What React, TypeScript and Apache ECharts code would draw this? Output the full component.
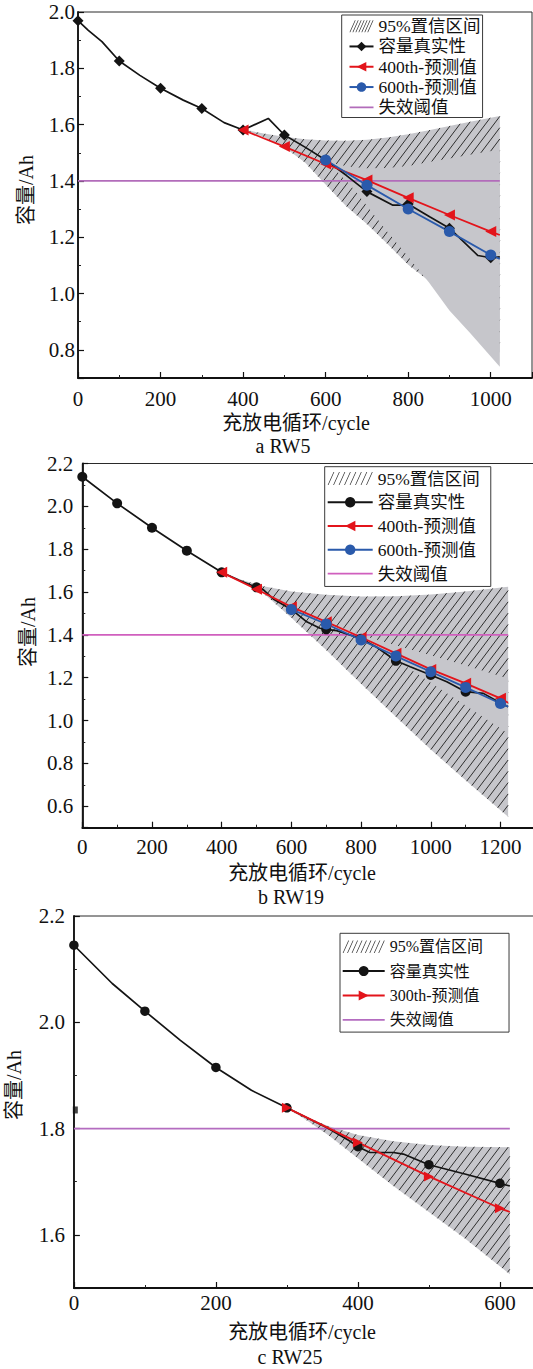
import React, { useEffect, useRef } from "react";
import * as echarts from "echarts";

const FONT = '"Liberation Serif", "Times New Roman", "Noto Sans CJK SC", serif';
const BLACK = "#141414";
const RED = "#e3141b";
const BLUE = "#2a5aab";
const GRAY = "#c6c6cb";
const HATCH = "#2e2e2e";

// ---------------- a RW5 ----------------
const rw5RealCycle = [0, 25, 58, 100, 150, 200, 255, 300, 354, 400, 461, 500, 550, 600, 650, 700, 763, 785, 800, 852, 900, 969, 1000, 1022];
const rw5RealCap = [1.969, 1.935, 1.895, 1.826, 1.775, 1.729, 1.687, 1.657, 1.607, 1.581, 1.622, 1.563, 1.52, 1.474, 1.42, 1.362, 1.314, 1.314, 1.318, 1.273, 1.232, 1.135, 1.127, 1.13];
const rw5Pred400Cycle = [400, 500, 600, 700, 800, 900, 1000, 1022];
const rw5Pred400Cap = [1.581, 1.522, 1.46, 1.403, 1.34, 1.279, 1.22, 1.208];
const rw5Pred600Cycle = [600, 700, 800, 900, 1000, 1022];
const rw5Pred600Cap = [1.474, 1.385, 1.3, 1.22, 1.137, 1.123];
const rw5ThresholdCycle = [0, 1022];
const rw5ThresholdCap = [1.4, 1.4];
const rw5Ci400Cycle = [400, 450, 500, 550, 600, 650, 700, 750, 800, 850, 900, 950, 1022];
const rw5Ci400Low = [1.583, 1.556, 1.52, 1.465, 1.387, 1.31, 1.247, 1.176, 1.102, 1.045, 0.956, 0.89, 0.79];
const rw5Ci400High = [1.583, 1.568, 1.557, 1.548, 1.544, 1.543, 1.546, 1.554, 1.566, 1.58, 1.595, 1.61, 1.631];
const rw5Ci600Cycle = [600, 630, 660, 700, 750, 800, 850, 900, 950, 1022];
const rw5Ci600Low = [1.474, 1.43, 1.385, 1.312, 1.219, 1.131, 1.04, 0.94, 0.86, 0.74];
const rw5Ci600High = [1.474, 1.458, 1.45, 1.445, 1.446, 1.453, 1.467, 1.48, 1.493, 1.512];

// ---------------- b RW19 ----------------
const rw19RealCycle = [0, 100, 200, 300, 400, 450, 500, 520, 548, 600, 644, 682, 700, 730, 759, 800, 845, 900, 941, 1000, 1046, 1100, 1151, 1200, 1222];
const rw19RealCap = [2.138, 2.014, 1.9, 1.793, 1.692, 1.655, 1.622, 1.61, 1.568, 1.519, 1.461, 1.431, 1.426, 1.42, 1.404, 1.382, 1.342, 1.279, 1.251, 1.213, 1.181, 1.135, 1.127, 1.082, 1.065];
const rw19Pred400Cycle = [400, 500, 600, 700, 800, 900, 1000, 1100, 1200, 1222];
const rw19Pred400Cap = [1.692, 1.613, 1.531, 1.461, 1.389, 1.314, 1.239, 1.174, 1.104, 1.083];
const rw19Pred600Cycle = [600, 700, 800, 900, 1000, 1100, 1200, 1222];
const rw19Pred600Cap = [1.519, 1.451, 1.376, 1.301, 1.228, 1.155, 1.08, 1.065];
const rw19ThresholdCycle = [0, 1222];
const rw19ThresholdCap = [1.4, 1.4];
const rw19Ci400Cycle = [400, 460, 520, 600, 700, 800, 900, 1000, 1100, 1222];
const rw19Ci400Low = [1.692, 1.65, 1.594, 1.48, 1.329, 1.172, 1.018, 0.865, 0.721, 0.551];
const rw19Ci400High = [1.692, 1.655, 1.627, 1.603, 1.587, 1.579, 1.58, 1.588, 1.603, 1.625];
const rw19Ci600Cycle = [600, 700, 800, 900, 1000, 1100, 1222];
const rw19Ci600Low = [1.519, 1.445, 1.39, 1.284, 1.177, 1.07, 0.94];
const rw19Ci600High = [1.519, 1.46, 1.4, 1.352, 1.305, 1.257, 1.197];

// ---------------- c RW25 ----------------
const rw25RealCycle = [0, 54, 100, 150, 200, 250, 300, 356, 388, 400, 417, 450, 464, 500, 552, 600, 614];
const rw25RealCap = [2.145, 2.073, 2.021, 1.966, 1.915, 1.872, 1.839, 1.802, 1.777, 1.766, 1.755, 1.755, 1.752, 1.732, 1.714, 1.697, 1.692];
const rw25Pred300Cycle = [300, 400, 500, 600, 614];
const rw25Pred300Cap = [1.839, 1.774, 1.71, 1.65, 1.643];
const rw25ThresholdCycle = [0, 614];
const rw25ThresholdCap = [1.8, 1.8];
const rw25CiCycle = [300, 330, 360, 400, 450, 500, 550, 614];
const rw25CiLow = [1.839, 1.814, 1.786, 1.744, 1.692, 1.643, 1.594, 1.526];
const rw25CiHigh = [1.839, 1.82, 1.804, 1.788, 1.776, 1.769, 1.766, 1.765];
const rw25StrayCycle = [2];
const rw25StrayCap = [1.835];

// ---------------- texts ----------------
const NAME_CI = "95%置信区间";
const NAME_REAL = "容量真实性";
const NAME_P400 = "400th-预测值";
const NAME_P600 = "600th-预测值";
const NAME_P300 = "300th-预测值";
const NAME_TH = "失效阈值";
const X_NAME = "充放电循环/cycle";
const Y_NAME = "容量/Ah";

// ---------------- helpers ----------------
function hatchSegments(poly: number[][], spacing: number, angleDeg: number) {
  const a = (angleDeg * Math.PI) / 180;
  const dx = Math.cos(a);
  const dy = -Math.sin(a);
  const nx = -dy;
  const ny = dx;
  let minC = Infinity;
  let maxC = -Infinity;
  for (const p of poly) {
    const c = p[0] * nx + p[1] * ny;
    if (c < minC) minC = c;
    if (c > maxC) maxC = c;
  }
  const segs: number[][] = [];
  for (let c = Math.ceil(minC / spacing) * spacing; c <= maxC; c += spacing) {
    const pts: number[][] = [];
    for (let i = 0; i < poly.length; i++) {
      const p = poly[i];
      const q = poly[(i + 1) % poly.length];
      const fp = p[0] * nx + p[1] * ny - c;
      const fq = q[0] * nx + q[1] * ny - c;
      if (fp < 0 !== fq < 0) {
        const t = fp / (fp - fq);
        const x = p[0] + t * (q[0] - p[0]);
        const y = p[1] + t * (q[1] - p[1]);
        pts.push([x, y, x * dx + y * dy]);
      }
    }
    pts.sort((u, v) => u[2] - v[2]);
    for (let k = 0; k + 1 < pts.length; k += 2) segs.push([pts[k][0], pts[k][1], pts[k + 1][0], pts[k + 1][1]]);
  }
  return segs;
}

function bandSeries(name: string, cycle: number[], low: number[], high: number[], hatch: boolean) {
  return {
    type: "custom",
    name,
    silent: true,
    clip: true,
    itemStyle: { color: GRAY },
    data: cycle.map((c, i) => [c, low[i], high[i]]),
    encode: { x: 0, y: [1, 2] },
    renderItem: (params: any, api: any) => {
      if (params.dataIndex !== 0) return null;
      const upper = cycle.map((c, i) => api.coord([c, high[i]]));
      const lower = cycle.map((c, i) => api.coord([c, low[i]])).reverse();
      const poly = upper.concat(lower);
      const children: any[] = [{ type: "polygon", shape: { points: poly }, style: { fill: GRAY } }];
      if (hatch) {
        hatchSegments(poly, 6.8, 53).forEach((s) =>
          children.push({
            type: "line",
            shape: { x1: s[0], y1: s[1], x2: s[2], y2: s[3] },
            style: { stroke: HATCH, lineWidth: 1 },
          })
        );
      }
      return { type: "group", children };
    },
  };
}

function curve(name: string, cycle: number[], cap: number[], color: string, symbol: string, size: number, rotate: number, width: number) {
  return {
    type: "line",
    name,
    color,
    symbol,
    symbolSize: size,
    symbolRotate: rotate,
    showAllSymbol: true,
    lineStyle: { color, width },
    itemStyle: { color, borderWidth: 0 },
    emphasis: { disabled: true },
    data: cycle.map((c, i) => (c % 100 === 0 ? [c, cap[i]] : { value: [c, cap[i]], symbol: "none" })),
  };
}

function hatchIcon(n: number, w: number, h: number) {
  const lw = 0.75;
  const slant = h * 0.45;
  const step = (w - lw - slant) / (n - 1);
  let d = "";
  for (let i = 0; i < n; i++) {
    const x = i * step;
    d += `M${x.toFixed(2)},${h} L${(x + lw).toFixed(2)},${h} L${(x + lw + slant).toFixed(2)},0 L${(x + slant).toFixed(2)},0 Z `;
  }
  return "path://" + d;
}

function lineIcon(w: number, h: number, t: number) {
  const a = h / 2 - t / 2;
  const b = h / 2 + t / 2;
  return `path://M0,0 L0.01,0 L0,0.01 Z M${w},${h} L${w - 0.01},${h} L${w},${h - 0.01} Z M0,${a} L${w},${a} L${w},${b} L0,${b} Z`;
}

function xAxisOpt(max: number, margin: number, fontSize: number) {
  return {
    type: "value",
    min: 0,
    max,
    minInterval: 200,
    maxInterval: 200,
    axisLine: { show: true, onZero: false, lineStyle: { color: "#111", width: 1.8 } },
    axisTick: { show: true, inside: true, length: 6, lineStyle: { color: "#111", width: 1.2 } },
    minorTick: { show: true, splitNumber: 2, length: 3, lineStyle: { color: "#222", width: 1 } },
    splitLine: { show: false },
    minorSplitLine: { show: false },
    axisLabel: {
      color: "#111",
      fontSize,
      fontFamily: FONT,
      margin,
      showMaxLabel: false,
      showMinLabel: true,
      formatter: (v: number) => String(v),
    },
  };
}

function yAxisOpt(min: number, max: number, margin: number, fontSize: number) {
  return {
    type: "value",
    min,
    max,
    minInterval: 0.2,
    maxInterval: 0.2,
    axisLine: { show: true, onZero: false, lineStyle: { color: "#111", width: 1.8 } },
    axisTick: { show: true, inside: true, length: 6, lineStyle: { color: "#111", width: 1.2 } },
    minorTick: { show: true, splitNumber: 2, length: 3, lineStyle: { color: "#222", width: 1 } },
    splitLine: { show: false },
    minorSplitLine: { show: false },
    axisLabel: {
      color: "#111",
      fontSize,
      fontFamily: FONT,
      margin,
      showMinLabel: false,
      showMaxLabel: true,
      formatter: (v: number) => v.toFixed(1),
    },
  };
}

function legendOpt(left: number, top: number, padding: number[], itemWidth: number, itemHeight: number, fontSize: number, lineHeight: number, data: any[]) {
  return {
    show: true,
    orient: "vertical",
    left,
    top,
    padding,
    itemWidth,
    itemHeight,
    itemGap: 0,
    backgroundColor: "#fff",
    borderColor: "#3a3a3a",
    borderWidth: 1,
    borderRadius: 0,
    selectedMode: false,
    textStyle: { color: "#111", fontFamily: FONT, fontSize, lineHeight },
    data,
  };
}

function text(t: string, x: number, y: number, fontSize: number, rotation = 0) {
  return {
    type: "text",
    x,
    y,
    rotation,
    silent: true,
    style: {
      text: t,
      fontSize,
      fontFamily: FONT,
      fill: "#111",
      align: "center",
      verticalAlign: "middle",
      textAlign: "center",
      textVerticalAlign: "middle",
    },
  };
}

function gridOpt(left: number, top: number, width: number, height: number) {
  return {
    left,
    top,
    width,
    height,
    show: true,
    borderColor: "#2a2a2a",
    borderWidth: 1,
    backgroundColor: "transparent",
    containLabel: false,
    outerBoundsMode: "none",
  };
}

// ---------------- layout of the three panels (page pixels) ----------------
const PANEL_A_TOP = 0;
const PANEL_B_TOP = 440;
const PANEL_C_TOP = 895;

// ---------------- options ----------------
const optionA = {
  animation: false,
  backgroundColor: "transparent",
  textStyle: { fontFamily: FONT },
  grid: gridOpt(78, 12, 454, 366),
  xAxis: xAxisOpt(1100, 10, 21),
  yAxis: yAxisOpt(0.7, 2.0, 3, 21),
  legend: legendOpt(341.7, 15, [1, 2, 0, 6.8], 24, 12, 17.5, 20.3, [
    { name: NAME_CI, icon: hatchIcon(7, 24, 12), itemStyle: { color: "#333", borderWidth: 0 } },
    { name: NAME_REAL },
    { name: NAME_P400 },
    { name: NAME_P600 },
    { name: NAME_TH, icon: lineIcon(24, 12, 1.8), itemStyle: { color: "#b26cba", borderWidth: 0 } },
  ]),
  graphic: [text(X_NAME, 296, 423, 20), text("a RW5", 283, 446, 20), text(Y_NAME, 26, 190, 20, Math.PI / 2)],
  series: [
    bandSeries(NAME_CI, rw5Ci400Cycle, rw5Ci400Low, rw5Ci400High, true),
    bandSeries("600th-置信区间", rw5Ci600Cycle, rw5Ci600Low, rw5Ci600High, false),
    curve(NAME_TH, rw5ThresholdCycle, rw5ThresholdCap, "#b26cba", "none", 0, 0, 1.8),
    curve(NAME_REAL, rw5RealCycle, rw5RealCap, BLACK, "diamond", 11, 0, 1.7),
    curve(NAME_P400, rw5Pred400Cycle, rw5Pred400Cap, RED, "triangle", 11, 90, 1.8),
    curve(NAME_P600, rw5Pred600Cycle, rw5Pred600Cap, BLUE, "circle", 11, 0, 1.8),
  ],
};

const bT = PANEL_B_TOP;
const optionB = {
  animation: false,
  backgroundColor: "transparent",
  textStyle: { fontFamily: FONT },
  grid: gridOpt(82.3, 463.5 - bT, 453, 364.2),
  xAxis: xAxisOpt(1300, 8.5, 21),
  yAxis: yAxisOpt(0.5, 2.2, 9, 21),
  legend: legendOpt(324.7, 466.7 - bT, [0, 11, 1, 2], 45, 13, 17.5, 23.75, [
    { name: NAME_CI, icon: hatchIcon(8, 45, 13), itemStyle: { color: "#333", borderWidth: 0 } },
    { name: NAME_REAL },
    { name: NAME_P400 },
    { name: NAME_P600 },
    { name: NAME_TH, icon: lineIcon(45, 13, 1.8), itemStyle: { color: "#d05fbe", borderWidth: 0 } },
  ]),
  graphic: [
    text(X_NAME, 302, 873 - bT, 20),
    text("b RW19", 291, 897 - bT, 20),
    text(Y_NAME, 28, 632 - bT, 20, Math.PI / 2),
  ],
  series: [
    bandSeries(NAME_CI, rw19Ci400Cycle, rw19Ci400Low, rw19Ci400High, true),
    bandSeries("600th-置信区间", rw19Ci600Cycle, rw19Ci600Low, rw19Ci600High, false),
    curve(NAME_TH, rw19ThresholdCycle, rw19ThresholdCap, "#d05fbe", "none", 0, 0, 1.8),
    curve(NAME_REAL, rw19RealCycle, rw19RealCap, BLACK, "circle", 10, 0, 1.7),
    curve(NAME_P400, rw19Pred400Cycle, rw19Pred400Cap, RED, "triangle", 11, 90, 1.8),
    curve(NAME_P600, rw19Pred600Cycle, rw19Pred600Cap, BLUE, "circle", 11, 0, 1.8),
  ],
};

const cT = PANEL_C_TOP;
const optionC = {
  animation: false,
  backgroundColor: "transparent",
  textStyle: { fontFamily: FONT },
  grid: gridOpt(73.9, 916 - cT, 461.5, 372),
  xAxis: xAxisOpt(650, 4, 21),
  yAxis: yAxisOpt(1.5, 2.2, 9, 21),
  legend: legendOpt(340, 933.3 - cT, [1.2, 26, 0, 1.7], 42, 12.5, 16, 24.4, [
    { name: NAME_CI, icon: hatchIcon(9, 42, 12.5), itemStyle: { color: "#333", borderWidth: 0 } },
    { name: NAME_REAL },
    { name: NAME_P300 },
    { name: NAME_TH, icon: lineIcon(42, 12.5, 1.8), itemStyle: { color: "#b46cc0", borderWidth: 0 } },
  ]),
  graphic: [
    text(X_NAME, 302, 1332 - cT, 20),
    text("c RW25", 290, 1357 - cT, 20),
    text(Y_NAME, 14, 1085 - cT, 20, Math.PI / 2),
  ],
  series: [
    bandSeries(NAME_CI, rw25CiCycle, rw25CiLow, rw25CiHigh, true),
    curve(NAME_TH, rw25ThresholdCycle, rw25ThresholdCap, "#b46cc0", "none", 0, 0, 1.8),
    curve(NAME_REAL, rw25RealCycle, rw25RealCap, BLACK, "circle", 9.5, 0, 1.7),
    curve(NAME_P300, rw25Pred300Cycle, rw25Pred300Cap, RED, "triangle", 10, -90, 1.8),
    {
      type: "scatter",
      name: "stray",
      symbol: "rect",
      symbolSize: [5, 7],
      itemStyle: { color: BLACK },
      silent: true,
      data: rw25StrayCycle.map((c, i) => [c, rw25StrayCap[i]]),
    },
  ],
};

function Chart({ option, top, height }: { option: any; top: number; height: number }) {
  const ref = useRef<HTMLDivElement>(null);
  useEffect(() => {
    if (!ref.current) return;
    const chart = echarts.init(ref.current, null, { renderer: "svg" });
    chart.setOption(option);
    return () => chart.dispose();
  }, [option]);
  return <div ref={ref} style={{ position: "absolute", left: 0, top, width: 533, height }} />;
}

export default function App() {
  return (
    <div style={{ position: "absolute", left: 0, top: 0, width: 533, height: 1369, background: "#fff", overflow: "hidden" }}>
      <Chart option={optionA} top={PANEL_A_TOP} height={460} />
      <Chart option={optionB} top={PANEL_B_TOP} height={470} />
      <Chart option={optionC} top={PANEL_C_TOP} height={1369 - PANEL_C_TOP} />
    </div>
  );
}
